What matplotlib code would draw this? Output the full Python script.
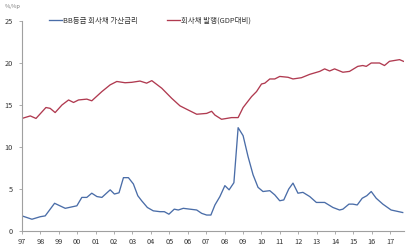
import matplotlib
matplotlib.use("Agg")
import matplotlib.pyplot as plt

plt.rcParams['font.family'] = ['Noto Sans CJK KR', 'DejaVu Sans']

# Corporate bond issuance (% of GDP) - red
red_x = [1997.00, 1997.45, 1997.76, 1998.30, 1998.53, 1998.80, 1999.17, 1999.53, 1999.80,
         2000.07, 2000.52, 2000.79, 2001.34, 2001.79, 2002.15, 2002.60, 2002.96, 2003.41,
         2003.77, 2004.05, 2004.59, 2005.13, 2005.58, 2005.94, 2006.49, 2007.03, 2007.30,
         2007.48, 2007.84, 2008.38, 2008.74, 2009.01, 2009.47, 2009.74, 2010.01, 2010.19,
         2010.46, 2010.73, 2011.00, 2011.45, 2011.72, 2012.18, 2012.63, 2013.17, 2013.44,
         2013.71, 2013.98, 2014.43, 2014.79, 2015.24, 2015.51, 2015.70, 2015.97, 2016.42,
         2016.69, 2016.96, 2017.51, 2017.72]
red_y = [13.4, 13.7, 13.4, 14.7, 14.6, 14.1, 15.0, 15.6, 15.3,
         15.6, 15.7, 15.5, 16.6, 17.4, 17.8, 17.65, 17.7, 17.85,
         17.6, 17.9, 17.0, 15.8, 14.9, 14.5, 13.9, 14.0, 14.25,
         13.8, 13.3, 13.5, 13.5, 14.7, 16.0, 16.6, 17.5, 17.6,
         18.1, 18.1, 18.4, 18.3, 18.1, 18.25, 18.65, 19.0, 19.3,
         19.05, 19.3, 18.9, 19.0, 19.6, 19.7, 19.6, 20.0, 20.0,
         19.7, 20.2, 20.4, 20.2]

# BB-grade corporate bond spread - blue
blue_x = [1997.00, 1997.54, 1997.99, 1998.26, 1998.77, 1999.35, 1999.98, 2000.25, 2000.52,
          2000.79, 2001.07, 2001.34, 2001.79, 2002.02, 2002.27, 2002.51, 2002.78, 2003.05,
          2003.29, 2003.50, 2003.81, 2004.13, 2004.50, 2004.73, 2004.98, 2005.27, 2005.49,
          2005.76, 2006.12, 2006.49, 2006.76, 2007.03, 2007.26, 2007.48, 2007.75, 2008.02,
          2008.25, 2008.51, 2008.74, 2009.01, 2009.28, 2009.55, 2009.82, 2010.09, 2010.46,
          2010.73, 2011.00, 2011.22, 2011.49, 2011.72, 2011.99, 2012.26, 2012.63, 2012.99,
          2013.44, 2013.89, 2014.25, 2014.43, 2014.76, 2014.97, 2015.21, 2015.48, 2015.73,
          2015.97, 2016.24, 2016.60, 2017.05, 2017.68]
blue_y = [1.8, 1.4, 1.7, 1.8, 3.3, 2.7, 3.0, 4.0, 4.0,
          4.5, 4.1, 4.0, 4.9, 4.4, 4.55, 6.35, 6.35, 5.6,
          4.2, 3.6, 2.8, 2.4, 2.3, 2.3, 2.0, 2.6, 2.5,
          2.7, 2.6, 2.5, 2.1, 1.9, 1.9, 3.1, 4.1, 5.4,
          4.9, 5.75, 12.3, 11.35, 8.85, 6.7, 5.2, 4.7, 4.8,
          4.3, 3.6, 3.7, 5.0, 5.7, 4.5, 4.6, 4.1, 3.4,
          3.4, 2.8, 2.5, 2.6, 3.2, 3.2, 3.1, 3.9, 4.2,
          4.7, 3.9, 3.2, 2.5, 2.2]

year_ticks = list(range(1997, 2018))
year_labels = ['97', '98', '99', '00', '01', '02', '03', '04', '05', '06', '07',
               '08', '09', '10', '11', '12', '13', '14', '15', '16', '17']
y_ticks = [0, 5, 10, 15, 20, 25]

blue_label = 'BB등급 회사채 가산금리'
red_label = '회사채 발행(GDP대비)'
unit_label = '%,%p'

fig = plt.figure(figsize=(4.10, 2.52), dpi=100)
ax = fig.add_axes([22 / 410, 1 - 231 / 252, (404 - 22) / 410, (231 - 21) / 252])

l1, = ax.plot(blue_x, blue_y, color='#4a6da8', lw=0.95, label=blue_label)
l2, = ax.plot(red_x, red_y, color='#b03a50', lw=0.95, label=red_label)

ax.set_xlim(1997, 2017.75)
ax.set_ylim(0, 25)
ax.set_xticks(year_ticks)
ax.set_xticklabels(year_labels)
ax.set_yticks(y_ticks)
ax.set_yticklabels([str(v) for v in y_ticks])

for s in ['top', 'right']:
    ax.spines[s].set_visible(False)
for s in ['left', 'bottom']:
    ax.spines[s].set_color('#a0a0a0')
    ax.spines[s].set_linewidth(0.8)
ax.tick_params(axis='both', colors='#a0a0a0', labelcolor='#333333', labelsize=5.3,
               length=2.5, width=0.6, direction='out')
ax.tick_params(axis='x', pad=2.5)
ax.tick_params(axis='y', pad=4)

fig.text(5 / 410, 1 - 6 / 252, unit_label, fontsize=4.2, color='#777777', va='center', ha='left')

fig.legend(handles=[l1, l2], loc='center left', bbox_to_anchor=(49 / 410, 1 - 21 / 252),
           ncol=2, frameon=False, fontsize=5.4, handlelength=1.7, handletextpad=0.15,
           columnspacing=3.9, borderaxespad=0, borderpad=0, labelcolor='#333333')

fig.savefig('out.png', dpi=100)
